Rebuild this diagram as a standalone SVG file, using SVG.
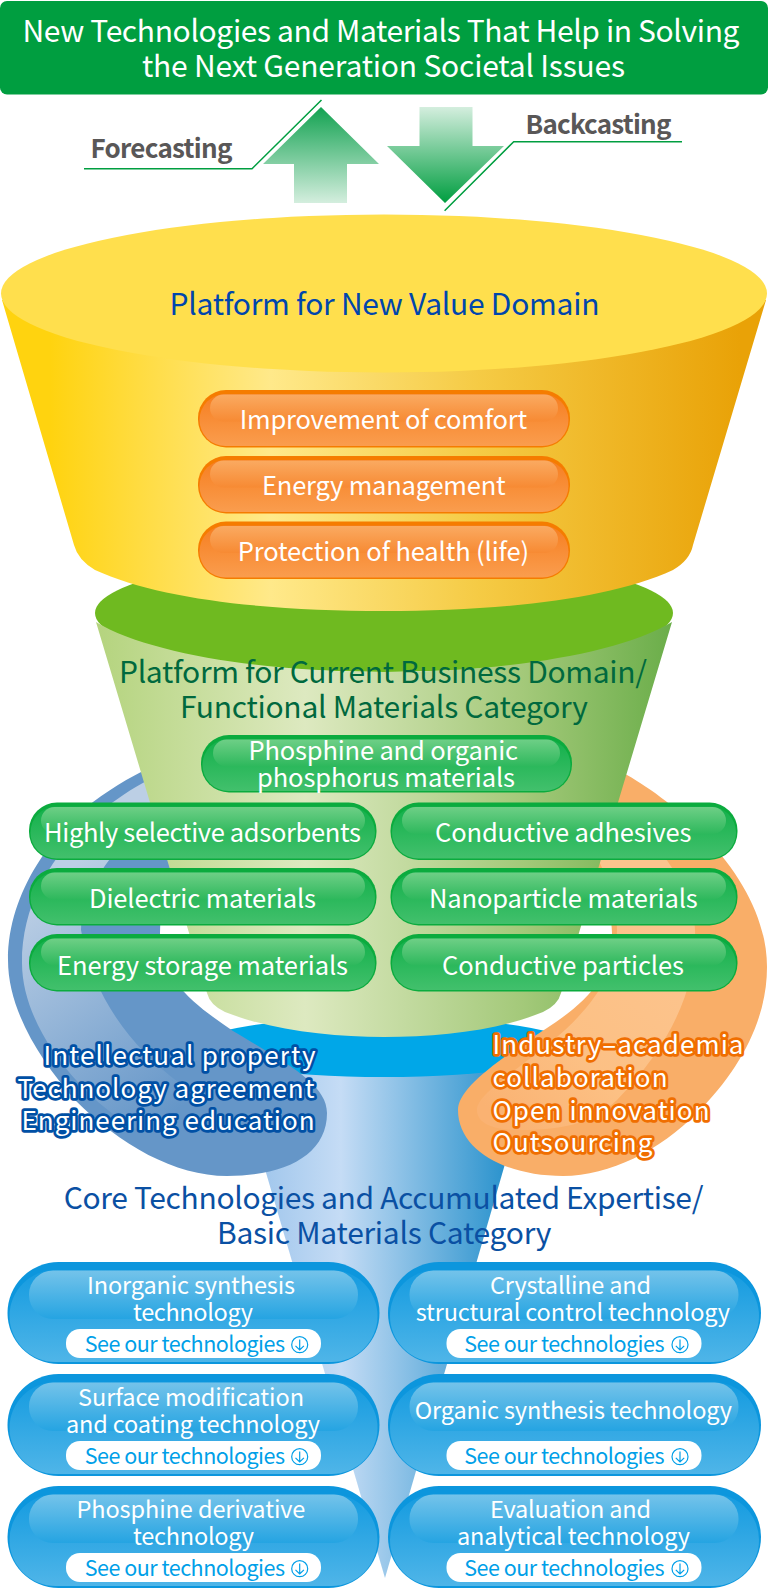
<svg xmlns="http://www.w3.org/2000/svg" width="768" height="1589" viewBox="0 0 768 1589">
<style>
text{font-family:"Noto Sans CJK JP","Noto Sans",sans-serif;font-weight:400;}
.hd{font-size:30px;fill:#fff;}
.cast{font-size:26px;font-weight:700;fill:#595757;}
.t1{font-size:30px;fill:#0046ad;}
.t2{font-size:30px;fill:#00693e;}
.t3{font-size:30px;fill:#0a50a3;}
.w{font-size:25.500px;fill:#fff;}
.wb{font-size:23.500px;fill:#fff;}
.see{font-size:21.500px;fill:#009fe8;}
.ob{font-size:26px;fill:#fff;stroke:#0050a5;stroke-width:5.500px;stroke-linejoin:round;paint-order:stroke;}
.oo{font-size:26px;fill:#fff;stroke:#f06e00;stroke-width:5.500px;stroke-linejoin:round;paint-order:stroke;}
.leader{fill:none;stroke:#009e40;stroke-width:1.5;}
.oe{fill:#f57c00;}.ob1{fill:url(#orB);}.og{fill:url(#orG);}
.ge{fill:#0bab3e;}.gb1{fill:url(#grB);}.gg{fill:url(#grG);}
.be{fill:#0c96dd;}.bb1{fill:url(#blB);}.bg{fill:url(#blG);}
.wp{fill:#fff;}
.ic{fill:none;stroke:#009fe8;stroke-width:1.2;}
</style>
<defs>
<linearGradient id="upA" gradientUnits="userSpaceOnUse" x1="0" y1="107" x2="0" y2="203"><stop offset="0" stop-color="#12a251"/><stop offset="1" stop-color="#d4eede"/></linearGradient>
<linearGradient id="dnA" gradientUnits="userSpaceOnUse" x1="0" y1="107" x2="0" y2="203"><stop offset="0" stop-color="#d4eede"/><stop offset="1" stop-color="#009e40"/></linearGradient>
<linearGradient id="yel" gradientUnits="userSpaceOnUse" x1="50" y1="0" x2="740" y2="0"><stop offset="0" stop-color="#ffd30f"/><stop offset=".32" stop-color="#ffe98a"/><stop offset=".62" stop-color="#f5cb45"/><stop offset="1" stop-color="#e9a207"/></linearGradient>
<linearGradient id="grn" gradientUnits="userSpaceOnUse" x1="100" y1="0" x2="670" y2="0"><stop offset="0" stop-color="#b5d47f"/><stop offset=".36" stop-color="#dde9c0"/><stop offset=".74" stop-color="#a4c97a"/><stop offset="1" stop-color="#6bae4a"/></linearGradient>
<linearGradient id="cone" gradientUnits="userSpaceOnUse" x1="260" y1="0" x2="505" y2="0"><stop offset="0" stop-color="#a0c6ec"/><stop offset=".33" stop-color="#c5dcf5"/><stop offset="1" stop-color="#2b93cd"/></linearGradient>
<linearGradient id="ringL" gradientUnits="userSpaceOnUse" x1="40" y1="890" x2="190" y2="1100"><stop offset="0" stop-color="#bccfe5"/><stop offset="1" stop-color="#6596c8"/></linearGradient>
<linearGradient id="ringR" gradientUnits="userSpaceOnUse" x1="680" y1="940" x2="500" y2="1120"><stop offset="0" stop-color="#fcc48e"/><stop offset=".6" stop-color="#fcc084"/><stop offset="1" stop-color="#fab272"/></linearGradient>
<linearGradient id="orB" x1="0" y1="0" x2="0" y2="1"><stop offset="0" stop-color="#f67e20"/><stop offset="1" stop-color="#fa9d4e"/></linearGradient>
<linearGradient id="orG" x1="0" y1="0" x2="0" y2="1"><stop offset="0" stop-color="#faaa61"/><stop offset="1" stop-color="#f78a33"/></linearGradient>
<linearGradient id="grB" x1="0" y1="0" x2="0" y2="1"><stop offset="0" stop-color="#12b04a"/><stop offset="1" stop-color="#42c06c"/></linearGradient>
<linearGradient id="grG" x1="0" y1="0" x2="0" y2="1"><stop offset="0" stop-color="#6ecf86"/><stop offset="1" stop-color="#2db85c"/></linearGradient>
<linearGradient id="blB" x1="0" y1="0" x2="0" y2="1"><stop offset="0" stop-color="#149be0"/><stop offset="1" stop-color="#4fb5e8"/></linearGradient>
<linearGradient id="blG" x1="0" y1="0" x2="0" y2="1"><stop offset="0" stop-color="#74c3ea"/><stop offset="1" stop-color="#25a4e2"/></linearGradient>
</defs>

<g id="funnel-blue">
<path fill="url(#cone)" d="M230,1050L538,1050L385,1578Z"/>
<ellipse cx="384" cy="1047" rx="190" ry="30" fill="#00a7e8"/>
</g>

<g id="ring-orange">
<path fill="#f9ae68" d="M560,745C585,752 610,765 627,775C680,805 767,880 767,967C767,1020 740,1070 697,1113C660,1150 610,1176 563,1176C505,1176 458,1150 458,1110C458,1090 490,1065 547,1028C590,1000 612,975 612,933C612,900 590,860 540,800Z"/>
<path fill="url(#ringR)" d="M590,845L655,845C680,875 695,905 695,930C697,990 670,1045 617,1100C590,1125 560,1130 520,1130C490,1130 477,1122 477,1110C477,1095 510,1075 550,1043C590,1010 617,975 617,930C617,900 605,870 590,845Z"/>
</g>

<g id="ring-blue">
<path fill="#6596c8" d="M200,748C165,758 125,778 93,802C55,832 8,890 8,960C8,1010 40,1060 75,1100C120,1145 175,1176 227,1176C285,1176 327,1155 327,1113C327,1085 290,1065 233,1031C195,1005 160,980 160,933C160,890 190,830 240,790Z"/>
<path fill="url(#ringL)" d="M170,770C130,785 22,850 22,963C22,1030 85,1100 133,1127C165,1148 190,1158 215,1155C235,1150 245,1140 240,1120C190,1095 100,1040 81,930C81,890 115,840 175,800Z"/>
</g>

<g id="funnel-green">
<ellipse cx="384" cy="613" rx="289" ry="59" fill="#6fba20"/>
<path fill="url(#grn)" d="M96,622C150,655 270,672 384,672C498,672 618,655 672,622L561,993Q558,1005 543,1012C500,1030 440,1037 384,1037C330,1037 270,1030 225,1012Q210,1005 207,993Z"/>
</g>

<g id="funnel-yellow">
<path fill="url(#yel)" d="M2,300L74,545Q78,560 95,570C160,600 270,611 384,611C498,611 608,600 673,570Q690,560 693,545L766,300Z"/>
<ellipse cx="384" cy="293.500" rx="383" ry="79" fill="#ffdf4d"/>
<text class="t1" x="169.500" y="314.500" textLength="430">Platform for New Value Domain</text>
</g>

<text class="t2" x="119" y="682.500" textLength="528">Platform for Current Business Domain/</text>
<text class="t2" x="180" y="717.500" textLength="408">Functional Materials Category</text>

<g id="header">
<rect x="0" y="1" width="768" height="93.500" rx="7" fill="#009e40"/>
<text class="hd" x="22.500" y="42" textLength="717">New Technologies and Materials That Help in Solving</text>
<text class="hd" x="142" y="77" textLength="483">the Next Generation Societal Issues</text>
</g>

<g id="connectors">
<path fill="url(#upA)" d="M321,107L379,164L347,164L347,203L294,203L294,164L263,164Z"/>
<path fill="url(#dnA)" d="M419.500,107L472.500,107L472.500,146L504,146L445,203L387,146L419.500,146Z"/>
<path class="leader" d="M84,168.700L252,168.700L321.500,100"/>
<path class="leader" d="M444.600,210.700L513.700,141.700L682,141.700"/>
</g>
<g id="label-forecasting"><text class="cast" x="90.500" y="158" textLength="142">Forecasting</text></g>
<g id="label-backcasting"><text class="cast" x="525.500" y="134" textLength="146">Backcasting</text></g>

<g id="or1"><rect class="oe" x="198" y="390" width="372" height="57.500" rx="28"/><rect class="ob1" x="199.500" y="394" width="369" height="52" rx="26"/><rect class="og" x="210" y="394.500" width="348" height="27" rx="13.500"/><text class="w" x="239.700" y="429" textLength="287.300">Improvement of comfort</text></g>
<g id="or2"><rect class="oe" x="198" y="456" width="372" height="57.500" rx="28"/><rect class="ob1" x="199.500" y="460" width="369" height="52" rx="26"/><rect class="og" x="210" y="460.500" width="348" height="27" rx="13.500"/><text class="w" x="262" y="495" textLength="243.600">Energy management</text></g>
<g id="or3"><rect class="oe" x="198" y="521.500" width="372" height="57.500" rx="28"/><rect class="ob1" x="199.500" y="525.500" width="369" height="52" rx="26"/><rect class="og" x="210" y="526" width="348" height="27" rx="13.500"/><text class="w" x="237.700" y="561" textLength="291.300">Protection of health (life)</text></g>

<g id="gr0"><rect class="ge" x="201" y="735" width="371" height="57.500" rx="28"/><rect class="gb1" x="202.500" y="739" width="368" height="52" rx="26"/><rect class="gg" x="213" y="739.500" width="347" height="27" rx="13.500"/><text class="w" x="248.500" y="760" textLength="269.500">Phosphine and organic</text><text class="w" x="257" y="787" textLength="258">phosphorus materials</text></g>
<g id="gr1"><rect class="ge" x="29" y="802.500" width="347.500" height="57.500" rx="28"/><rect class="gb1" x="30.500" y="806.500" width="344.500" height="52" rx="26"/><rect class="gg" x="41" y="807" width="324" height="27" rx="13.500"/><text class="w" x="44" y="842" textLength="317">Highly selective adsorbents</text></g>
<g id="gr2"><rect class="ge" x="29" y="868" width="347.500" height="57.500" rx="28"/><rect class="gb1" x="30.500" y="872" width="344.500" height="52" rx="26"/><rect class="gg" x="41" y="872.500" width="324" height="27" rx="13.500"/><text class="w" x="89" y="908" textLength="227">Dielectric materials</text></g>
<g id="gr3"><rect class="ge" x="29" y="934" width="347.500" height="57.500" rx="28"/><rect class="gb1" x="30.500" y="938" width="344.500" height="52" rx="26"/><rect class="gg" x="41" y="938.500" width="324" height="27" rx="13.500"/><text class="w" x="57" y="975" textLength="291">Energy storage materials</text></g>
<g id="gr4"><rect class="ge" x="390.500" y="802.500" width="347" height="57.500" rx="28"/><rect class="gb1" x="392" y="806.500" width="344" height="52" rx="26"/><rect class="gg" x="402" y="807" width="324" height="27" rx="13.500"/><text class="w" x="435" y="842" textLength="256.500">Conductive adhesives</text></g>
<g id="gr5"><rect class="ge" x="390.500" y="868" width="347" height="57.500" rx="28"/><rect class="gb1" x="392" y="872" width="344" height="52" rx="26"/><rect class="gg" x="402" y="872.500" width="324" height="27" rx="13.500"/><text class="w" x="429" y="908" textLength="268.700">Nanoparticle materials</text></g>
<g id="gr6"><rect class="ge" x="390.500" y="934" width="347" height="57.500" rx="28"/><rect class="gb1" x="392" y="938" width="344" height="52" rx="26"/><rect class="gg" x="402" y="938.500" width="324" height="27" rx="13.500"/><text class="w" x="442" y="975" textLength="242">Conductive particles</text></g>

<g id="label-left">
<text class="ob" x="43.500" y="1065" textLength="272">Intellectual property</text>
<text class="ob" x="17.500" y="1097.500" textLength="297">Technology agreement</text>
<text class="ob" x="21.500" y="1130" textLength="293">Engineering education</text>
</g>
<g id="label-right">
<text class="oo" x="492.500" y="1054" textLength="251">Industry–academia</text>
<text class="oo" x="492.500" y="1087" textLength="175">collaboration</text>
<text class="oo" x="492.500" y="1120" textLength="217">Open innovation</text>
<text class="oo" x="492.500" y="1152" textLength="160">Outsourcing</text>
</g>

<text class="t3" x="63.700" y="1209" textLength="639.700">Core Technologies and Accumulated Expertise/</text>
<text class="t3" x="217" y="1244" textLength="334.500">Basic Materials Category</text>

<g id="b1"><rect class="be" x="7.500" y="1262" width="372" height="102" rx="51"/><rect class="bb1" x="9.500" y="1270" width="368" height="92" rx="46"/><rect class="bg" x="29" y="1270.500" width="329" height="48.500" rx="24"/><text class="wb" x="87" y="1294" textLength="208">Inorganic synthesis</text><text class="wb" x="133" y="1321" textLength="120">technology</text><rect class="wp" x="66" y="1329" width="255" height="29" rx="14"/><text class="see" x="84.700" y="1352" textLength="200.300">See our technologies</text><circle class="ic" cx="299.700" cy="1344.700" r="8"/><path class="ic" d="M299.700,1339.500V1350M295.500,1345.800L299.700,1350L303.900,1345.800"/></g>
<g id="b2"><rect class="be" x="7.500" y="1374" width="372" height="102" rx="51"/><rect class="bb1" x="9.500" y="1382" width="368" height="92" rx="46"/><rect class="bg" x="29" y="1382.500" width="329" height="48.500" rx="24"/><text class="wb" x="78" y="1406" textLength="226">Surface modification</text><text class="wb" x="66" y="1433" textLength="254">and coating technology</text><rect class="wp" x="66" y="1441" width="255" height="29" rx="14"/><text class="see" x="84.700" y="1464" textLength="200.300">See our technologies</text><circle class="ic" cx="299.700" cy="1456.700" r="8"/><path class="ic" d="M299.700,1451.500V1462M295.500,1457.800L299.700,1462L303.900,1457.800"/></g>
<g id="b3"><rect class="be" x="7.500" y="1486" width="372" height="102" rx="51"/><rect class="bb1" x="9.500" y="1494" width="368" height="92" rx="46"/><rect class="bg" x="29" y="1494.500" width="329" height="48.500" rx="24"/><text class="wb" x="76.500" y="1518" textLength="228.900">Phosphine derivative</text><text class="wb" x="133" y="1545" textLength="121">technology</text><rect class="wp" x="66" y="1553" width="255" height="29" rx="14"/><text class="see" x="84.700" y="1576" textLength="200.300">See our technologies</text><circle class="ic" cx="299.700" cy="1568.700" r="8"/><path class="ic" d="M299.700,1563.500V1574M295.500,1569.800L299.700,1574L303.900,1569.800"/></g>
<g id="b4"><rect class="be" x="388" y="1262" width="373" height="102" rx="51"/><rect class="bb1" x="390" y="1270" width="369" height="92" rx="46"/><rect class="bg" x="409.500" y="1270.500" width="329" height="48.500" rx="24"/><text class="wb" x="490" y="1294" textLength="161">Crystalline and</text><text class="wb" x="415.700" y="1321" textLength="314.300">structural control technology</text><rect class="wp" x="446.500" y="1329" width="255" height="29" rx="14"/><text class="see" x="464.200" y="1352" textLength="200.300">See our technologies</text><circle class="ic" cx="680" cy="1344.700" r="8"/><path class="ic" d="M680,1339.500V1350M675.800,1345.800L680,1350L684.200,1345.800"/></g>
<g id="b5"><rect class="be" x="388" y="1374" width="373" height="102" rx="51"/><rect class="bb1" x="390" y="1382" width="369" height="92" rx="46"/><rect class="bg" x="409.500" y="1382.500" width="329" height="48.500" rx="24"/><text class="wb" x="414.700" y="1419" textLength="317.300">Organic synthesis technology</text><rect class="wp" x="446.500" y="1441" width="255" height="29" rx="14"/><text class="see" x="464.200" y="1464" textLength="200.300">See our technologies</text><circle class="ic" cx="680" cy="1456.700" r="8"/><path class="ic" d="M680,1451.500V1462M675.800,1457.800L680,1462L684.200,1457.800"/></g>
<g id="b6"><rect class="be" x="388" y="1486" width="373" height="102" rx="51"/><rect class="bb1" x="390" y="1494" width="369" height="92" rx="46"/><rect class="bg" x="409.500" y="1494.500" width="329" height="48.500" rx="24"/><text class="wb" x="490" y="1518" textLength="161">Evaluation and</text><text class="wb" x="457" y="1545" textLength="233">analytical technology</text><rect class="wp" x="446.500" y="1553" width="255" height="29" rx="14"/><text class="see" x="464.200" y="1576" textLength="200.300">See our technologies</text><circle class="ic" cx="680" cy="1568.700" r="8"/><path class="ic" d="M680,1563.500V1574M675.800,1569.800L680,1574L684.200,1569.800"/></g>
</svg>
